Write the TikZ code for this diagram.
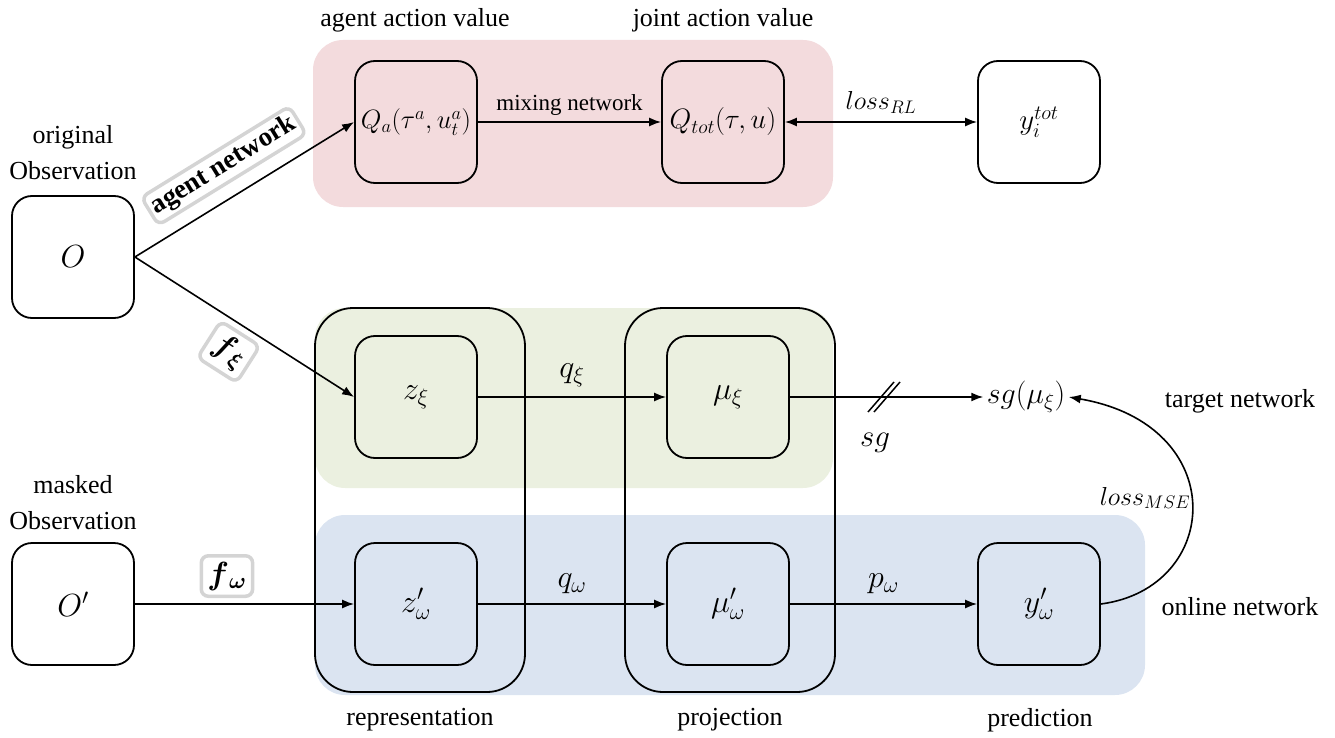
\documentclass[tikz,border=0pt]{standalone}
\usepackage{fix-cm}
\usepackage{fontspec}
\setmainfont{Liberation Serif}
\usepackage{bm}
\usetikzlibrary{arrows.meta}
\definecolor{pinkbg}{RGB}{243,219,221}
\definecolor{greenbg}{RGB}{235,240,224}
\definecolor{bluebg}{RGB}{219,228,241}
\definecolor{labgray}{RGB}{212,212,212}
\begin{document}
\begin{tikzpicture}[x=1pt,y=-1pt,
  font=\fontsize{26}{36}\selectfont,
  box/.style={draw, line width=1.8pt, rounded corners=20pt, minimum width=122pt, minimum height=122pt, inner sep=0pt},
  grp/.style={draw, line width=1.8pt, rounded corners=38pt, minimum width=210pt, minimum height=384pt, inner sep=0pt},
  bgfill/.style={rounded corners=30pt},
  mbig/.style={font=\fontsize{32}{36}\selectfont},
  mmid/.style={font=\fontsize{29}{34}\selectfont},
  arr/.style={-{Latex[length=12pt,width=9pt]}, line width=1.6pt},
  darr/.style={{Latex[length=12pt,width=9pt]}-{Latex[length=12pt,width=9pt]}, line width=1.6pt},
  lab/.style={draw=labgray, line width=3.5pt, rounded corners=7pt, fill=white, inner sep=4pt}]
\useasboundingbox (0,0) rectangle (1335,738);
% backgrounds
\fill[pinkbg, bgfill] (313,40) rectangle (833,207);
\fill[greenbg, bgfill] (315,308) rectangle (833,488);
\fill[bluebg, bgfill] (315,515) rectangle (1145,695);
% group frames
\node[grp] (rep) at (420,500) {};
\node[grp] (proj) at (730,500) {};
% boxes
\node[box, mbig] (O) at (73,257) {$O$};
\node[box, mbig] (Op) at (73,604) {$O'$};
\node[box, font=\fontsize{26.5}{30}\selectfont] (Qa) at (416,122) {$Q_a(\tau^a,u_t^a)$};
\node[box, font=\fontsize{28}{32}\selectfont] (Qt) at (723,122) {$Q_{tot}(\tau,u)$};
\node[box, mmid] (yt) at (1039,122) {$y_i^{tot}$};
\node[box, mbig] (z) at (416,397) {$z_\xi$};
\node[box, mbig] (mu) at (728,397) {$\mu_\xi$};
\node[box, mbig] (zw) at (416,604) {$z'_\omega$};
\node[box, mbig] (muw) at (728,604) {$\mu'_\omega$};
\node[box, mbig] (yw) at (1039,604) {$y'_\omega$};
% text labels
\node (aav) at (415,20) {agent action value};
\node (jav) at (723,20) {joint action value};
\node[align=center] (orig) at (73,153) {original\\Observation};
\node[align=center] (mask) at (73,503) {masked\\Observation};
\node (repl) at (420,720) {representation};
\node (projl) at (730,720) {projection};
\node (predl) at (1040,720) {prediction};
\node (tn) at (1240,401) {target network};
\node (on) at (1240,607) {online network};
\node[font=\fontsize{30}{34}\selectfont] (sgmu) at (1026,397) {$sg(\mu_\xi)$};
\node[font=\fontsize{31}{34}\selectfont] (sgl) at (875,443) {$sg$};
\node (lossmse) at (1145,498) {$loss_{MSE}$};
% connectors
\draw[arr] (O.east) -- node[sloped, above=13pt, pos=0.48, lab, font=\fontsize{27}{30}\selectfont\bfseries] {agent network} (Qa.west);
\draw[arr] (O.east) -- node[sloped, below=6pt, pos=0.5, lab, inner sep=6pt, mbig] {$\bm{f}_{\,\bm{\xi}}$} (z.west);
\draw[arr] (Op.east) -- node[above=6pt, pos=0.42, lab, inner sep=6pt, mbig] {$\bm{f}_{\,\bm{\omega}}$} (zw.west);
\draw[arr] (Qa) -- node[above=2pt, font=\fontsize{23}{28}\selectfont] {mixing network} (Qt);
\draw[darr] (Qt) -- node[above=4pt] {$loss_{RL}$} (yt);
\draw[arr] (z) -- node[above=6pt, mbig] {$q_\xi$} (mu);
\draw[arr] (zw) -- node[above=6pt, mbig] {$q_\omega$} (muw);
\draw[arr] (muw) -- node[above=6pt, mbig] {$p_\omega$} (yw);
\draw[arr] (mu) -- (sgmu);
\draw[line width=1.5pt] (868,412) -- (894,382);
\draw[line width=1.5pt] (874,412) -- (900,382);
\draw[arr] (yw.east) .. controls (1222,588) and (1232,425) .. (sgmu.east);
\end{tikzpicture}
\end{document}
